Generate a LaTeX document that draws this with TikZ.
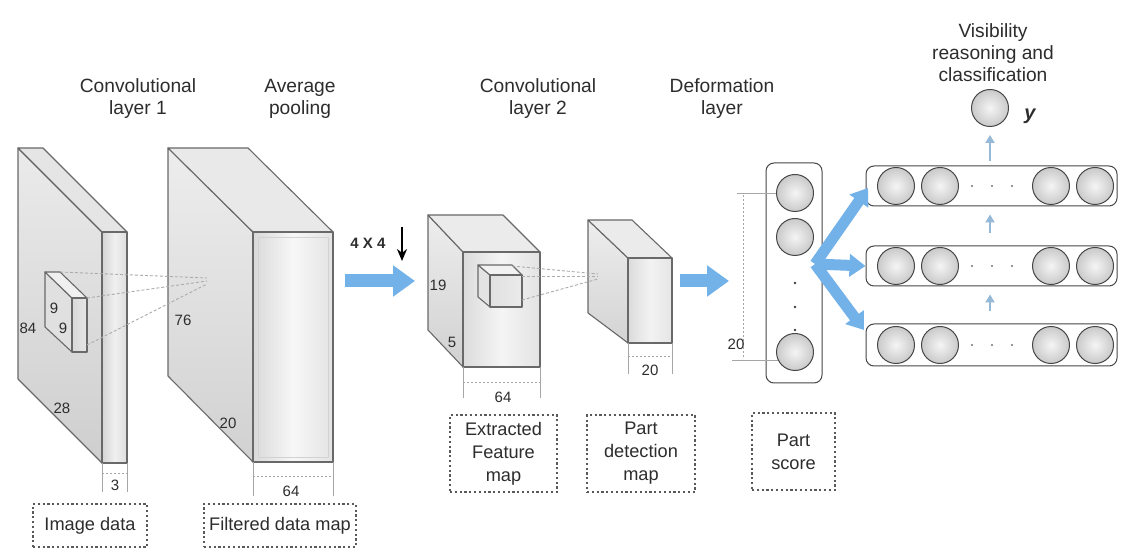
\documentclass[tikz,border=0pt]{standalone}
\usepackage{fontspec}
\setmainfont{Liberation Sans}
\usetikzlibrary{arrows.meta}
\definecolor{arrowblue}{RGB}{115,178,232}
\definecolor{smallblue}{RGB}{150,185,215}
\definecolor{edgegray}{RGB}{105,105,105}
\definecolor{txt}{RGB}{45,45,45}
\begin{document}
\begin{tikzpicture}[x=0.5pt,y=-0.5pt,
  face/.style={draw=edgegray, line width=0.55pt, line join=round},
  title/.style={font=\fontsize{9.6}{11}\selectfont, align=center, text=txt},
  dim/.style={font=\fontsize{7.5}{9}\selectfont, text=txt, inner sep=0},
  lbl/.style={draw=gray!70!black, dash pattern=on 1.1pt off 1.3pt, line width=0.75pt,
    font=\fontsize{9.1}{11.5}\selectfont, align=center, text=txt, inner sep=0},
  dimline/.style={draw=gray!70, line width=0.4pt},
  dimdash/.style={draw=gray!70, line width=0.4pt, dash pattern=on 1pt off 1pt},
  proj/.style={draw=gray!65, line width=0.45pt, dash pattern=on 1.5pt off 1pt},
  neuron/.style={circle, minimum size=18.5pt, inner sep=0, draw=gray!55!black, line width=0.5pt,
    inner color=gray!8, outer color=gray!42},
  layerbox/.style={draw=gray!55!black, line width=0.5pt, rounded corners=4pt, inner sep=0},
  bigarrow/.style={draw=arrowblue, line width=6.5pt, -{Triangle[width=15pt,length=11pt]}},
  fanarrow/.style={draw=arrowblue, line width=5.5pt, -{Triangle[width=11pt,length=8pt]}},
  smallarrow/.style={draw=smallblue, line width=1pt, -{Triangle[width=4.5pt,length=4pt]}},
  dot/.style={circle, fill=black!75, inner sep=0, minimum size=1.4pt}
]
\useasboundingbox (0,0) rectangle (1122,549);
\fill[white] (0,0) rectangle (1122,549);

% ---------- titles ----------
\node[title] (t1) at (138,99) {Convolutional\\layer 1};
\node[title] (t2) at (300,99) {Average\\pooling};
\node[title] (t3) at (538,99) {Convolutional\\layer 2};
\node[title] (t4) at (722,99) {Deformation\\layer};
\node[title] (t5) at (993,53) {Visibility\\reasoning and\\classification};

% ---------- box 1 (image data) ----------
\draw[face, top color=gray!16, bottom color=gray!38] (18,148) -- (102,232) -- (102,463) -- (18,379) -- cycle;
\draw[face, fill=gray!20] (18,148) -- (43,148) -- (127,232) -- (102,232) -- cycle;
\draw[face, left color=gray!34, right color=gray!26, middle color=gray!12] (102,232) rectangle (127,463);
% filter
\draw[face, fill=gray!24] (45,272) -- (72,298) -- (72,352) -- (45,327) -- cycle;
\draw[face, fill=gray!12] (45,272) -- (60,272) -- (87,298) -- (72,298) -- cycle;
\draw[face, left color=gray!30, right color=gray!20] (72,298) rectangle (87,352);
\node[dim] (n9a) at (54,308) {9};
\node[dim] (n9b) at (63,328) {9};
\node[dim] (n84) at (28,328) {84};
\node[dim] (n28) at (62,408) {28};

% ---------- box 2 (filtered data map) ----------
\draw[face, top color=gray!14, bottom color=gray!36] (168,148) -- (253,232) -- (253,462) -- (168,376) -- cycle;
\draw[face, fill=gray!17] (168,148) -- (248,148) -- (333,232) -- (253,232) -- cycle;
\draw[face, left color=gray!30, right color=gray!22, middle color=gray!6] (253,232) rectangle (333,462);
\draw[draw=gray!35, line width=0.4pt] (258,237) rectangle (328,457);
\node[dim] (n76) at (183,320) {76};
\node[dim] (n20a) at (228,423) {20};

% projection lines box1 -> box2
\coordinate (p1) at (207,278);
\draw[proj] (60,272) -- (p1);
\draw[proj] (87,298) -- (207,281);
\draw[proj] (87,345) -- (207,284);

% dims box1 / box2
\draw[dimline] (102,463) -- (102,492);
\draw[dimline] (127,463) -- (127,492);
\draw[dimdash] (102,473) -- (127,473);
\node[dim] (n3) at (115,485) {3};
\draw[dimline] (253,462) -- (253,496);
\draw[dimline] (333,462) -- (333,496);
\draw[dimdash] (253,476) -- (333,476);
\node[dim] (n64a) at (291,491) {64};

% ---------- pooling arrow ----------
\node[font=\bfseries\fontsize{7.5}{9}\selectfont, text=txt, inner sep=0] (pool) at (368,243) {4 X 4};
\coordinate (da) at (402,227);
\coordinate (db) at (402,261);
\draw[line width=1pt, -{Stealth[length=6pt,width=5pt]}] (da) -- (db);
\coordinate (a1s) at (345,281);
\coordinate (a1e) at (415,281);
\draw[bigarrow] (a1s) -- (a1e);

% ---------- box 3 (extracted feature map) ----------
\draw[face, top color=gray!14, bottom color=gray!36] (428,215) -- (463,252) -- (463,367) -- (428,330) -- cycle;
\draw[face, fill=gray!16] (428,215) -- (503,215) -- (540,252) -- (463,252) -- cycle;
\draw[face, left color=gray!28, right color=gray!22, middle color=gray!8] (463,252) rectangle (540,367);
% small cube
\draw[face, fill=gray!22] (478,265) -- (490,275) -- (490,307) -- (478,297) -- cycle;
\draw[face, fill=gray!10] (478,265) -- (512,265) -- (522,275) -- (490,275) -- cycle;
\draw[face, left color=gray!24, right color=gray!16] (490,275) rectangle (522,307);
\node[dim] (n19) at (438,285) {19};
\node[dim] (n5) at (452,342) {5};
% dims
\draw[dimline] (463,367) -- (463,398);
\draw[dimline] (540,367) -- (540,398);
\draw[dimdash] (463,382) -- (540,382);
\node[dim] (n64b) at (503,397) {64};

% ---------- box 4 (part detection map) ----------
\draw[face, top color=gray!14, bottom color=gray!34] (588,220) -- (628,258) -- (628,343) -- (588,313) -- cycle;
\draw[face, fill=gray!16] (588,220) -- (632,220) -- (672,258) -- (628,258) -- cycle;
\draw[face, left color=gray!28, right color=gray!20, middle color=gray!10] (628,258) rectangle (672,343);
\draw[dimline] (628,343) -- (628,374);
\draw[dimline] (672,343) -- (672,374);
\draw[dimdash] (628,356) -- (672,356);
\node[dim] (n20b) at (650,370) {20};

% projection lines box3 -> box4
\coordinate (p2) at (598,274);
\draw[proj] (512,266) -- (p2);
\draw[proj] (522,276) -- (598,276);
\draw[proj] (522,300) -- (598,279);

% arrow 2
\coordinate (a2s) at (680,281);
\coordinate (a2e) at (729,281);
\draw[bigarrow] (a2s) -- (a2e);

% ---------- deformation column ----------
\node[layerbox, minimum width=28pt, minimum height=110pt] (col) at (794,273) {};
\node[neuron] (c1) at (795,193) {};
\node[neuron] (c2) at (795,237) {};
\node[neuron] (c3) at (795,352) {};
\node[dot] (d1) at (795,283) {};
\node[dot] (d2) at (795,307) {};
\node[dot] (d3) at (795,330) {};
% bracket 20
\coordinate (b1) at (737,193);
\coordinate (b2) at (732,360);
\coordinate (b3) at (778,360);
\draw[dimline] (b1) -- (c1.west);
\draw[dimline] (b2) -- (b3);
\draw[dimdash] (743,195) -- (743,358);
\node[dim] (n20c) at (736,344) {20};

% ---------- visibility layers ----------
\node[layerbox, minimum width=125.5pt, minimum height=20pt] (r1) at (991.5,186) {};
\node[layerbox, minimum width=125.5pt, minimum height=20pt] (r2) at (991.5,266) {};
\node[layerbox, minimum width=125.5pt, minimum height=21pt] (r3) at (991.5,345) {};
\foreach \r/\y in {1/186,2/266,3/345}{
  \node[neuron] (r\r a) at (896,\y) {};
  \node[neuron] (r\r b) at (940,\y) {};
  \node[neuron] (r\r c) at (1051,\y) {};
  \node[neuron] (r\r d) at (1095,\y) {};
  \node[dot, fill=black!55, minimum size=1.2pt] (r\r x) at (972,\y) {};
  \node[dot, fill=black!55, minimum size=1.2pt] (r\r y) at (992,\y) {};
  \node[dot, fill=black!55, minimum size=1.2pt] (r\r z) at (1012,\y) {};
}
\node[neuron] (out) at (990,108) {};
\node[font=\bfseries\itshape\fontsize{10}{12}\selectfont, text=txt, inner sep=0] (ylab) at (1030,116) {y};

% fan arrows
\coordinate (fan) at (815,264);
\coordinate (f1) at (868,188);
\coordinate (f3) at (864,330);
\draw[fanarrow] (fan) -- (f1);
\draw[fanarrow] (fan) -- (r2.west);
\draw[fanarrow] (fan) -- (f3);

% small upward arrows
\draw[smallarrow, shorten <=6pt, shorten >=4pt] (r3.north -| out) -- (r2.south -| out);
\draw[smallarrow, shorten <=6pt, shorten >=4pt] (r2.north -| out) -- (r1.south -| out);
\draw[smallarrow, shorten <=2pt, shorten >=4pt] (r1.north -| out) -- (out.south);

% ---------- label boxes ----------
\node[lbl, minimum width=57pt, minimum height=21.5pt] (l1) at (90,525.5) {Image data};
\node[lbl, minimum width=76pt, minimum height=21.5pt] (l2) at (280,525.5) {Filtered data map};
\node[lbl, minimum width=53.5pt, minimum height=38.5pt] (l3) at (503.5,453.5) {Extracted\\Feature\\map};
\node[lbl, minimum width=54pt, minimum height=38.5pt] (l4) at (641,453.5) {Part\\detection\\map};
\node[lbl, minimum width=41.5pt, minimum height=38.5pt] (l5) at (793.5,451.5) {Part\\score};
\end{tikzpicture}
\end{document}
